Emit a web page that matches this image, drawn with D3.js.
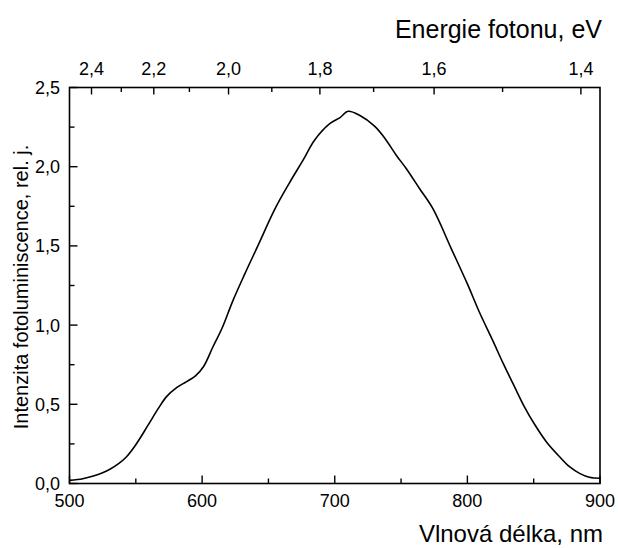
<!DOCTYPE html>
<html>
<head>
<meta charset="utf-8">
<script src="https://cdn.jsdelivr.net/npm/d3@7"></script>
<style>
  html, body { margin: 0; padding: 0; background: #ffffff; }
  svg { display: block; font-family: "Liberation Sans", Arial, sans-serif; }
</style>
</head>
<body>
<svg id="chart" width="618" height="548"></svg>
<script>
// Wavelength (nm) and photoluminescence intensity (rel. units)
const wavelengths = [500, 510, 518, 525, 530.5, 537, 543, 550, 559, 567, 573, 581, 588, 595, 601, 608, 615, 623, 632, 642, 655, 666, 676, 685, 696, 704, 710, 719, 730, 738, 746.5, 754, 764, 774, 788, 800, 809, 819, 827, 835.6, 843, 851, 859.5, 869.5, 877, 884.6, 892, 900];
const intensity   = [0.02, 0.03, 0.047, 0.068, 0.09, 0.125, 0.169, 0.245, 0.365, 0.474, 0.547, 0.607, 0.642, 0.68, 0.737, 0.86, 0.98, 1.15, 1.32, 1.5, 1.735, 1.9, 2.04, 2.17, 2.27, 2.31, 2.35, 2.323, 2.256, 2.177, 2.071, 1.987, 1.861, 1.735, 1.48, 1.26, 1.083, 0.905, 0.758, 0.61, 0.484, 0.369, 0.264, 0.169, 0.106, 0.064, 0.039, 0.033];

const xMajorTicks = [500, 600, 700, 800, 900];
const xMinorTicks = [550, 650, 750, 850];
const yMajorTicks = [0.0, 0.5, 1.0, 1.5, 2.0, 2.5];
const yMinorTicks = [0.25, 0.75, 1.25, 1.75, 2.25];
const eMajorTicks = [2.4, 2.2, 2.0, 1.8, 1.6, 1.4];
const eMinorTicks = [2.3, 2.1, 1.9, 1.7, 1.5];

const xTitle = "Vlnová délka, nm";
const yTitle = "Intenzita fotoluminiscence, rel. j.";
const topTitle = "Energie fotonu, eV";

const HC = 1239.84; // eV·nm

const pL = 69.5, pR = 600, pT = 87.5, pB = 483.5;
const x = d3.scaleLinear().domain([500, 900]).range([pL, pR]);
const y = d3.scaleLinear().domain([0, 2.5]).range([pB, pT]);
const fmt = v => d3.format(".1f")(v).replace(".", ",");

const svg = d3.select("#chart");

// curve
const data = wavelengths.map((w, i) => [w, intensity[i]]);
const line = d3.line().x(d => x(d[0])).y(d => y(d[1])).curve(d3.curveCatmullRom.alpha(0.5));
svg.append("path").datum(data).attr("d", line)
  .attr("fill", "none").attr("stroke", "#000").attr("stroke-width", 1.6)
  .attr("stroke-linejoin", "round");

// frame
svg.append("rect").attr("x", pL).attr("y", pT)
  .attr("width", pR - pL).attr("height", pB - pT)
  .attr("fill", "none").attr("stroke", "#000").attr("stroke-width", 1.6);

const tickStyle = sel => sel.attr("stroke", "#000").attr("stroke-width", 1.4);

// bottom axis (ticks inward)
const gB = svg.append("g");
gB.selectAll("line.maj").data(xMajorTicks).join("line").attr("class", "maj")
  .attr("x1", d => x(d)).attr("x2", d => x(d)).attr("y1", pB).attr("y2", pB - 8).call(tickStyle);
gB.selectAll("line.min").data(xMinorTicks).join("line").attr("class", "min")
  .attr("x1", d => x(d)).attr("x2", d => x(d)).attr("y1", pB).attr("y2", pB - 5).call(tickStyle);
gB.selectAll("text").data(xMajorTicks).join("text")
  .attr("x", d => x(d)).attr("y", 507).attr("text-anchor", "middle")
  .attr("font-size", 18).text(d => d);

// left axis
const gL = svg.append("g");
gL.selectAll("line.maj").data(yMajorTicks).join("line").attr("class", "maj")
  .attr("x1", pL).attr("x2", pL + 8).attr("y1", d => y(d)).attr("y2", d => y(d)).call(tickStyle);
gL.selectAll("line.min").data(yMinorTicks).join("line").attr("class", "min")
  .attr("x1", pL).attr("x2", pL + 5).attr("y1", d => y(d)).attr("y2", d => y(d)).call(tickStyle);
gL.selectAll("text").data(yMajorTicks).join("text")
  .attr("x", 60).attr("y", d => y(d) + 6.5).attr("text-anchor", "end")
  .attr("font-size", 18).text(d => fmt(d));

// top axis: photon energy
const gT = svg.append("g");
gT.selectAll("line.maj").data(eMajorTicks).join("line").attr("class", "maj")
  .attr("x1", d => x(HC / d)).attr("x2", d => x(HC / d)).attr("y1", pT).attr("y2", pT + 7).call(tickStyle);
gT.selectAll("line.min").data(eMinorTicks).join("line").attr("class", "min")
  .attr("x1", d => x(HC / d)).attr("x2", d => x(HC / d)).attr("y1", pT).attr("y2", pT + 4.5).call(tickStyle);
gT.selectAll("text").data(eMajorTicks).join("text")
  .attr("x", d => x(HC / d)).attr("y", 75).attr("text-anchor", "middle")
  .attr("font-size", 18).text(d => fmt(d));

// titles
svg.append("text").attr("x", 603).attr("y", 542).attr("text-anchor", "end")
  .attr("font-size", 24).text(xTitle);
svg.append("text").attr("x", 602).attr("y", 38).attr("text-anchor", "end")
  .attr("font-size", 25).text(topTitle);
svg.append("text").attr("transform", "translate(28,287) rotate(-90)")
  .attr("text-anchor", "middle").attr("font-size", 20).text(yTitle);
</script>
</body>
</html>
